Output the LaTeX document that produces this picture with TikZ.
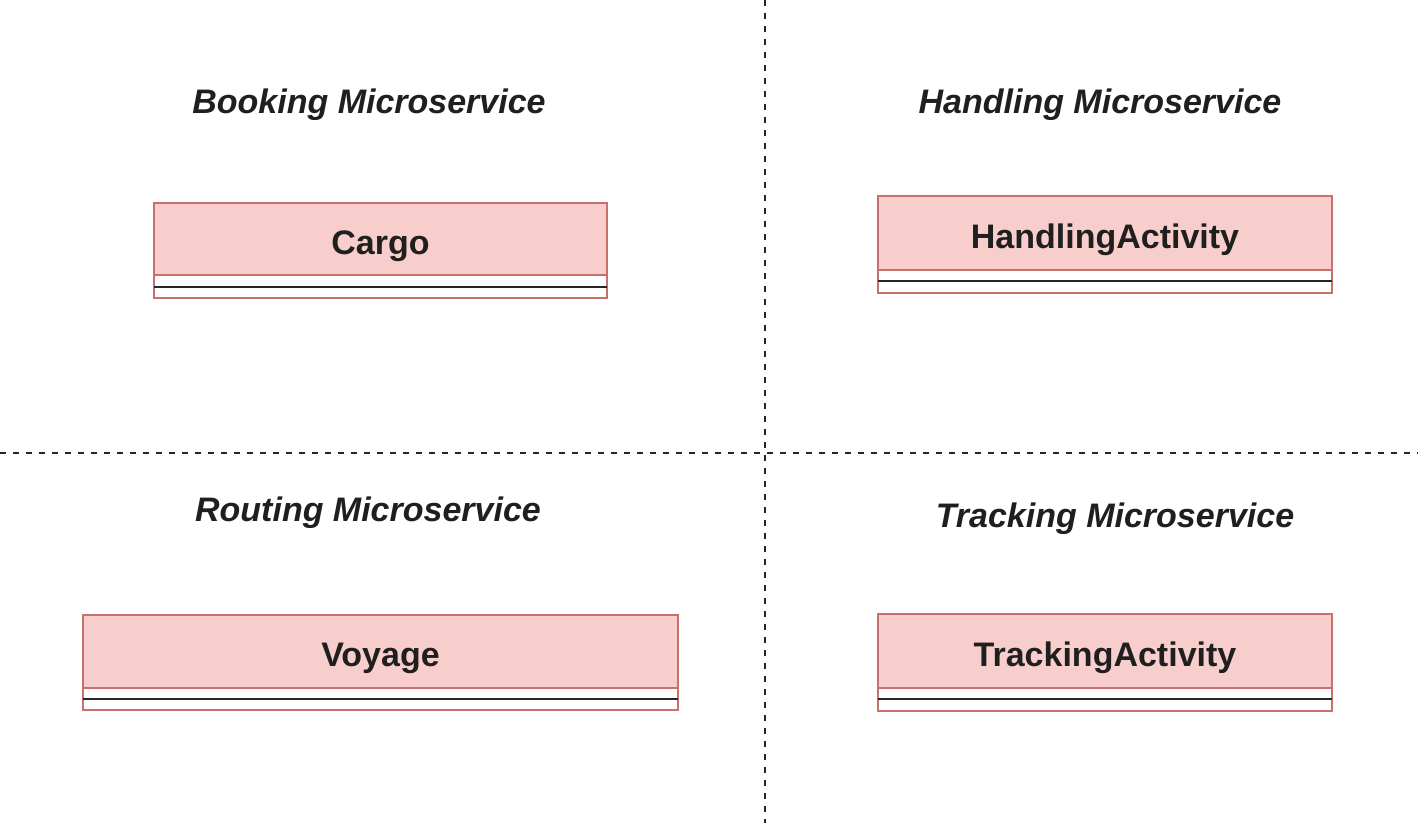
\documentclass[tikz,border=0pt]{standalone}
\usepackage{fontspec}
\setmainfont{Liberation Sans}
\usetikzlibrary{calc}
\definecolor{clsfill}{HTML}{F8CECC}
\definecolor{clsdraw}{HTML}{C8706C}
\tikzset{
  cls/.style={draw=clsdraw, fill=clsfill, line width=1.1pt, inner sep=0pt, outer sep=0pt},
  clstext/.style={font=\fontsize{17}{20}\selectfont\bfseries, text=black!88, inner sep=0pt, yshift=-3.5pt},
  clslow/.style={draw=clsdraw, fill=white, line width=1.1pt},
  clsline/.style={draw=black!85, line width=1.1pt},
  title/.style={font=\fontsize{17}{20}\selectfont\bfseries\itshape, text=black!88, inner sep=0pt},
  divider/.style={draw=black!85, line width=1pt, dash pattern=on 3pt off 3.5pt}
}
\begin{document}
\begin{tikzpicture}[x=0.5pt, y=-0.5pt]
\useasboundingbox (0,0) rectangle (1418,823);
% dividers
\coordinate (vt) at (765,0);
\coordinate (vb) at (765,823);
\coordinate (hl) at (0,453);
\coordinate (hr) at (1418,453);
\draw[divider] (vt) -- (vb);
\draw[divider] (hl) -- (hr);
% titles
\node[title] (tbook) at (369,105) {Booking Microservice};
\node[title] (thand) at (1100,105) {Handling Microservice};
\node[title] (trout) at (368,513) {Routing Microservice};
\node[title] (ttrack) at (1115,519) {Tracking Microservice};
% Cargo
\node[cls, minimum width=226.5pt, minimum height=36pt, label={[clstext]center:Cargo}] (cargo) at (380.5,239) {};
\draw[clslow] (cargo.south west) rectangle ($(cargo.south east)+(0,23)$);
\draw[clsline] ($(cargo.south west)+(0,12)$) -- ($(cargo.south east)+(0,12)$);
% HandlingActivity
\node[cls, minimum width=227pt, minimum height=37pt, label={[clstext]center:HandlingActivity}] (hand) at (1105,233) {};
\draw[clslow] (hand.south west) rectangle ($(hand.south east)+(0,23)$);
\draw[clsline] ($(hand.south west)+(0,11)$) -- ($(hand.south east)+(0,11)$);
% Voyage
\node[cls, minimum width=297.5pt, minimum height=36.5pt, label={[clstext]center:Voyage}] (voy) at (380.5,651.5) {};
\draw[clslow] (voy.south west) rectangle ($(voy.south east)+(0,22)$);
\draw[clsline] ($(voy.south west)+(0,11)$) -- ($(voy.south east)+(0,11)$);
% TrackingActivity
\node[cls, minimum width=227pt, minimum height=37pt, label={[clstext]center:TrackingActivity}] (track) at (1105,651) {};
\draw[clslow] (track.south west) rectangle ($(track.south east)+(0,23)$);
\draw[clsline] ($(track.south west)+(0,11)$) -- ($(track.south east)+(0,11)$);
\end{tikzpicture}
\end{document}
